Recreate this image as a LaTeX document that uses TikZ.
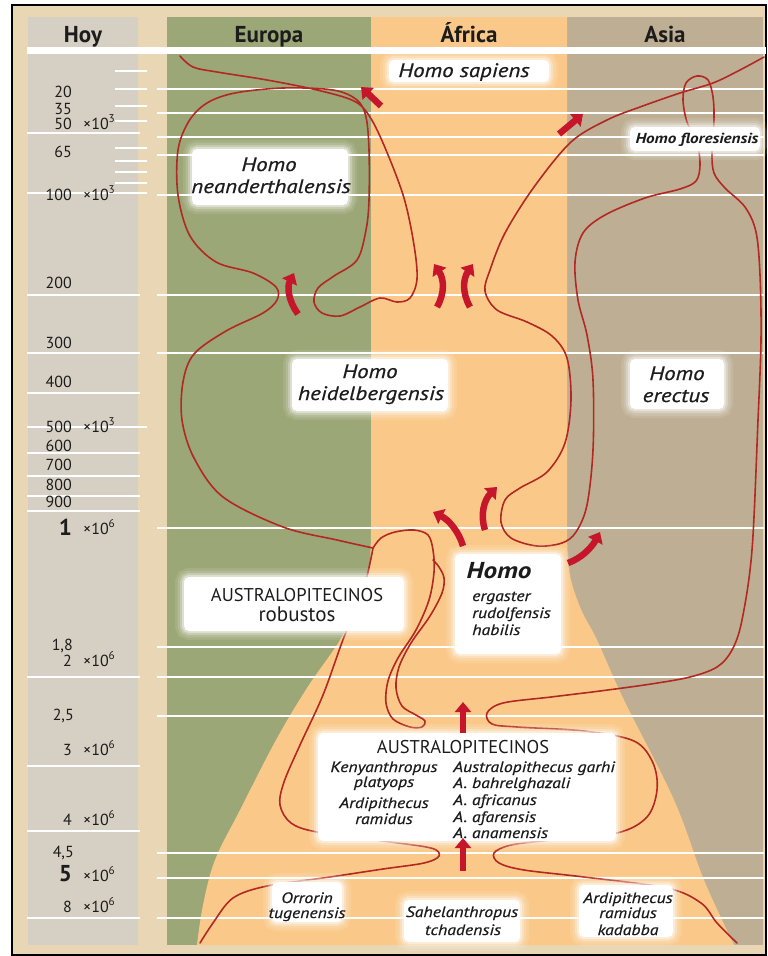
\documentclass[tikz,border=0pt]{standalone}
\usepackage{fontspec}
\setmainfont{PT Sans}[ItalicFeatures={FakeStretch=1.18,FakeBold=0.6},BoldItalicFeatures={FakeStretch=1.18}]
\usetikzlibrary{arrows.meta}

\definecolor{paper}{RGB}{233,214,180}
\definecolor{hoygray}{RGB}{214,207,196}
\definecolor{eurogreen}{RGB}{155,167,118}
\definecolor{afrorange}{RGB}{250,201,138}
\definecolor{asiabrown}{RGB}{190,175,148}
\definecolor{lineage}{RGB}{178,40,34}
\definecolor{flow}{RGB}{198,22,44}
\definecolor{ink}{RGB}{28,28,28}

\newcommand{\fhead}{\fontsize{23}{25}\selectfont\bfseries}
\newcommand{\fsp}{\fontsize{19.5}{22}\selectfont\itshape}
\newcommand{\fflo}{\fontsize{14.5}{16}\selectfont\bfseries\itshape}
\newcommand{\fnum}{\fontsize{16}{18}\selectfont}
\newcommand{\fbig}{\fontsize{23}{25}\selectfont\bfseries}
\newcommand{\fcaps}{\fontsize{18.5}{20}\selectfont}
\newcommand{\frob}{\fontsize{21}{23}\selectfont}
\newcommand{\fhomo}{\fontsize{23}{25}\selectfont\bfseries\itshape}
\newcommand{\fsm}{\fontsize{15}{17}\selectfont\itshape}

\begin{document}
\begin{tikzpicture}[x=1pt,y=-1pt,
  lineage/.style={draw=lineage, line width=1.6pt, line cap=round, line join=round},
  gridline/.style={draw=white, line width=1.5pt},
  flowarrow/.style={draw=flow, line width=6.5pt, -{Triangle[length=10pt,width=16pt]}},
  glowbox/.style={fill=white, draw=none, rounded corners=5pt, inner sep=0pt,
    preaction={draw=white, draw opacity=0.10, line width=18pt, rounded corners=5pt},
    preaction={draw=white, draw opacity=0.15, line width=13pt, rounded corners=5pt},
    preaction={draw=white, draw opacity=0.25, line width=8pt, rounded corners=5pt},
    preaction={draw=white, draw opacity=0.40, line width=4pt, rounded corners=5pt}},
  txt/.style={inner sep=0pt, text=ink, anchor=base},
  num/.style={inner sep=0pt, text=ink, anchor=base east, font=\fnum},
  exp/.style={inner sep=0pt, text=ink, anchor=base west, font=\fnum},
]
\useasboundingbox (0,0) rectangle (768,956);

% page, frame and columns
\fill[white] (0,0) rectangle (768,956);
\fill[paper] (12,5) rectangle (766,955);
\fill[hoygray] (28,17) rectangle (138,945);
\fill[eurogreen] (167,17) rectangle (371,945);
\fill[asiabrown] (567,17) rectangle (763,945);
\fill[afrorange] (371,17) -- (567,17) -- (567,525)
  -- plot[smooth, tension=0.6] coordinates {(567,525) (569,570) (580,607) (597,640) (624,700) (674,800) (704,880) (734,945)}
  -- (197,945)
  -- plot[smooth, tension=0.6] coordinates {(197,945) (203,905) (215,860) (240,810) (276,740) (307,688) (340,640) (360,600) (369,570) (371,530)}
  -- cycle;
\draw[black, line width=1.5pt] (12,5) rectangle (766,955);

% header rule
\draw[white, line width=7pt] (27,50.5) -- (766,50.5);

% time grid
\foreach \yy in {89,113,137,155,195,295,353,528,647,677,716,853,878,918}
  \draw[gridline] (157,\yy) -- (764,\yy);
\foreach \yy in {133,295,353,393,453,476,496,511,677,766,831,918}
  \draw[gridline] (27,\yy) -- (140,\yy);
\foreach \yy in {193,427}
  \draw[gridline] (27,\yy) -- (147,\yy);
\foreach \yy in {71,89,106,121,148,161,172,183}
  \draw[gridline] (115,\yy) -- (147,\yy);

% headers
\node[txt, font=\fhead] (hhoy) at (83,42) {Hoy};
\node[txt, font=\fhead] (heur) at (269,42) {Europa};
\node[txt, font=\fhead] (hafr) at (469,42) {África};
\node[txt, font=\fhead] (hasi) at (665,42) {Asia};

% time scale
\node[num] (n20) at (72,97) {20};
\node[num] (n35) at (72,114) {35};
\node[num] (n50) at (72,129) {50};
\node[exp] (e50) at (83,129) {×10\textsuperscript{3}};
\node[num] (n65) at (72,157) {65};
\node[num] (n100) at (72,200) {100};
\node[exp] (e100) at (83,200) {×10\textsuperscript{3}};
\node[num] (n200) at (72,288) {200};
\node[num] (n300) at (72,348) {300};
\node[num] (n400) at (72,387) {400};
\node[num] (n500) at (72,432) {500};
\node[exp] (e500) at (83,432) {×10\textsuperscript{3}};
\node[num] (n600) at (72,451) {600};
\node[num] (n700) at (72,470) {700};
\node[num] (n800) at (72,490) {800};
\node[num] (n900) at (72,507) {900};
\node[num, font=\fbig] (n1) at (72,535) {1};
\node[exp] (e1) at (83,534) {×10\textsuperscript{6}};
\node[num] (n18) at (73,650) {1,8};
\node[num] (n2) at (72,666) {2};
\node[exp] (e2) at (83,666) {×10\textsuperscript{6}};
\node[num] (n25) at (74,720) {2,5};
\node[num] (n3) at (72,755) {3};
\node[exp] (e3) at (83,755) {×10\textsuperscript{6}};
\node[num] (n4) at (72,825) {4};
\node[exp] (e4) at (83,825) {×10\textsuperscript{6}};
\node[num] (n45) at (74,857) {4,5};
\node[num, font=\fbig] (n5) at (72,881) {5};
\node[exp] (e5) at (83,881) {×10\textsuperscript{6}};
\node[num] (n8) at (72,912) {8};
\node[exp] (e8) at (83,912) {×10\textsuperscript{6}};

% lineages
\draw[lineage] plot[smooth, tension=0.55] coordinates {
  (200,943) (213,923) (233,898) (267,886) (330,877) (383,869) (424,863) (439,856)
  (431,848) (383,841) (317,832) (291,823) (280,805) (284,782) (300,745) (323,695)
  (344,637) (360,600) (368,572) (373,548)};
\draw[lineage] plot[smooth, tension=0.55] coordinates {
  (373,548) (337,540) (283,527) (223,497) (194,458) (182,420) (183,382) (194,354)
  (226,331) (263,313) (277,300) (276,287) (253,273) (216,262) (190,236) (178,195)
  (178,150) (189,121) (207,103) (235,93) (283,88) (333,90) (357,100) (366,117)
  (369,150) (369,200) (366,230) (357,260) (334,276) (318,288) (314,302) (322,313)
  (340,316) (360,307) (380,298) (397,302) (410,298) (417,279) (414,245) (404,198)
  (386,150) (370,117) (354,101) (317,90) (267,80) (217,72) (193,67) (180,56)};
\draw[lineage] plot[smooth, tension=0.55] coordinates {
  (373,548) (381,538) (395,532) (414,530) (428,535) (433,550) (434,572) (429,600)
  (416,630) (398,658) (388,681) (386,703) (393,719) (410,727) (422,727) (425,721)
  (416,715) (402,706) (396,688) (399,667) (411,643) (430,616) (442,593) (444,578)
  (439,567) (433,560)};
\draw[lineage] plot[smooth, tension=0.55] coordinates {
  (764,57) (740,70) (713,83) (680,93) (640,107) (607,120) (571,142) (534,187)
  (505,233) (490,270) (485,291) (497,310) (527,322) (552,336) (567,358) (571,400)
  (565,443) (547,472) (520,488) (505,500) (501,522) (511,538) (537,546) (562,543)
  (576,532) (587,505) (593,450) (593,380) (587,335) (578,300) (575,262) (583,233)
  (605,215) (645,198) (680,189) (696,181) (700,165) (697,143) (687,122) (683,100)
  (686,83) (697,76) (708,80) (713,97) (714,120) (712,153) (714,173) (725,188)
  (745,207) (756,232) (760,275) (761,340) (758,420) (752,550) (742,620) (732,650)
  (717,667) (690,677) (651,684) (600,691) (551,697) (503,703) (487,713) (492,724)
  (517,727) (584,731) (634,741) (653,763) (657,790) (647,817) (617,833) (551,840)
  (511,845) (494,853) (499,863) (524,870) (584,877) (667,888) (701,903) (717,923)
  (737,943)};

% label panels
\node[glowbox, minimum width=160pt, minimum height=22pt] (boxsap) at (469,71) {};
\node[glowbox, minimum width=156pt, minimum height=56pt] (boxnea) at (270,177) {};
\node[glowbox, minimum width=130pt, minimum height=24pt] (boxflo) at (695,139) {};
\node[glowbox, minimum width=156pt, minimum height=52pt] (boxhei) at (370,385) {};
\node[glowbox, minimum width=94pt, minimum height=50pt] (boxere) at (677,384) {};
\node[glowbox, minimum width=220pt, minimum height=54pt] (boxrob) at (294,604) {};
\node[glowbox, minimum width=106pt, minimum height=100pt] (boxhomo) at (508,604) {};
\node[glowbox, minimum width=298pt, minimum height=108pt] (boxaus) at (467,787) {};
\node[glowbox, minimum width=70pt, minimum height=40pt] (boxorr) at (307,902) {};
\node[glowbox, minimum width=116pt, minimum height=42pt] (boxsah) at (462,921) {};
\node[glowbox, minimum width=94pt, minimum height=52pt] (boxkad) at (626,911) {};

% names
\node[txt, font=\fsp] (tsap) at (464,77) {Homo sapiens};
\node[txt, font=\fsp] (tnea1) at (269,171) {Homo};
\node[txt, font=\fsp] (tnea2) at (271,193) {neanderthalensis};
\node[txt, font=\fflo] (tflo) at (697,143) {Homo floresiensis};
\node[txt, font=\fsp] (thei1) at (370,378) {Homo};
\node[txt, font=\fsp] (thei2) at (371,400) {heidelbergensis};
\node[txt, font=\fsp] (tere1) at (677,380) {Homo};
\node[txt, font=\fsp] (tere2) at (676,402) {erectus};
\node[txt, font=\fcaps] (trob1) at (297,601) {AUSTRALOPITECINOS};
\node[txt, font=\frob] (trob2) at (297,621) {robustos};
\node[txt, font=\fhomo] (thomo) at (499,578) {Homo};
\node[txt, font=\fsm, anchor=base west] (terg) at (472,601) {ergaster};
\node[txt, font=\fsm, anchor=base west] (trud) at (472,618) {rudolfensis};
\node[txt, font=\fsm, anchor=base west] (thab) at (472,635) {habilis};
\node[txt, font=\fcaps] (taus) at (463,753) {AUSTRALOPITECINOS};
\node[txt, font=\fsm] (tken1) at (384,772) {Kenyanthropus};
\node[txt, font=\fsm] (tken2) at (384,787) {platyops};
\node[txt, font=\fsm] (tard1) at (384,808) {Ardipithecus};
\node[txt, font=\fsm] (tard2) at (384,824) {ramidus};
\node[txt, font=\fsm, anchor=base west] (tgar) at (453,772) {Australopithecus garhi};
\node[txt, font=\fsm, anchor=base west] (tbah) at (453,788) {A. bahrelghazali};
\node[txt, font=\fsm, anchor=base west] (tafr) at (453,805) {A. africanus};
\node[txt, font=\fsm, anchor=base west] (tafa) at (453,822) {A. afarensis};
\node[txt, font=\fsm, anchor=base west] (tana) at (453,838) {A. anamensis};
\node[txt, font=\fsm] (torr1) at (307,903) {Orrorin};
\node[txt, font=\fsm] (torr2) at (307,918) {tugenensis};
\node[txt, font=\fsm] (tsah1) at (462,917) {Sahelanthropus};
\node[txt, font=\fsm] (tsah2) at (463,935) {tchadensis};
\node[txt, font=\fsm] (tkad1) at (628,903) {Ardipithecus};
\node[txt, font=\fsm] (tkad2) at (628,918) {ramidus};
\node[txt, font=\fsm] (tkad3) at (628,935) {kadabba};

% migrations and descent
\draw[flowarrow] (381,106) -- (361,87);
\draw[flowarrow] (559,134) -- (583,114);
\draw[flowarrow] (298,314) .. controls (288,300) and (287,287) .. (294,273);
\draw[flowarrow] (437,307) .. controls (445,293) and (444,279) .. (434,264);
\draw[flowarrow] (470,307) .. controls (462,293) and (463,279) .. (473,264);
\draw[flowarrow] (463,546) .. controls (459,532) and (449,520) .. (433,512);
\draw[flowarrow] (485,530) .. controls (480,515) and (484,500) .. (497,487);
\draw[flowarrow] (568,563) .. controls (582,558) and (592,547) .. (600,532);
\draw[flowarrow] (463,733) -- (463,702);
\draw[flowarrow] (463,871) -- (463,838);
\end{tikzpicture}
\end{document}
